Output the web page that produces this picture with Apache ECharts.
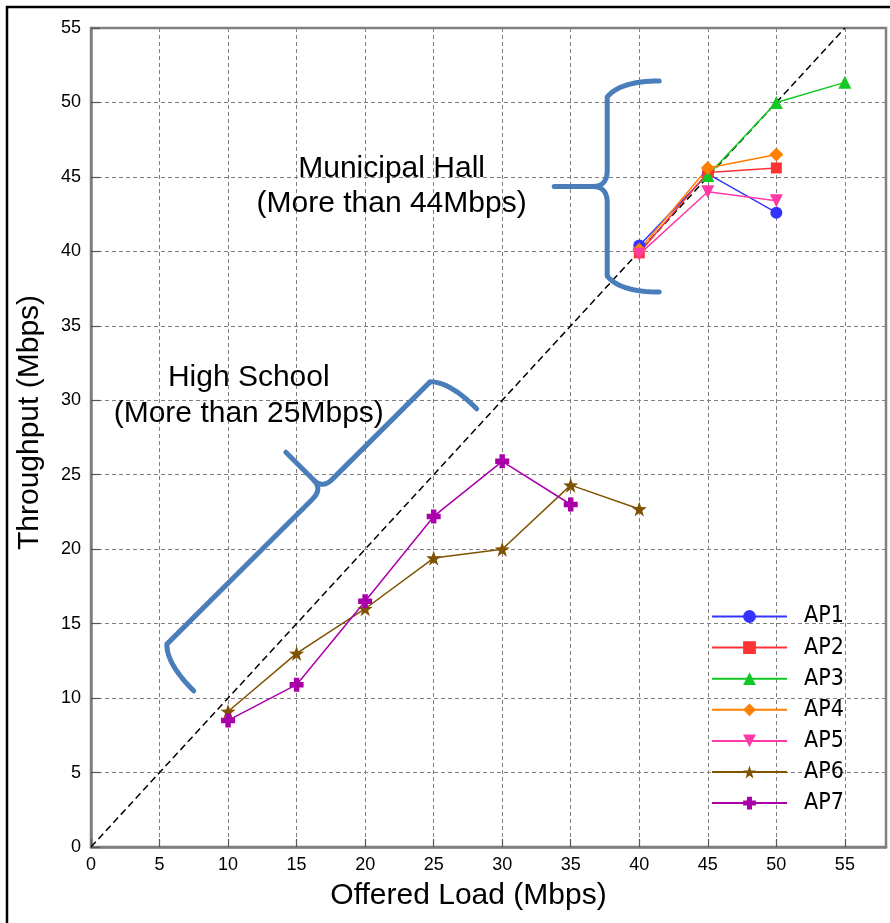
<!DOCTYPE html>
<html>
<head>
<meta charset="utf-8">
<script src="https://cdn.jsdelivr.net/npm/echarts@6/dist/echarts.min.js"></script>
<style>
html,body{margin:0;padding:0;background:#fff;}
#chart{width:890px;height:923px;}
</style>
</head>
<body>
<div id="chart"></div>
<script>
// ---- data ----
const seriesNames = ['AP1','AP2','AP3','AP4','AP5','AP6','AP7'];
const ap1Load = [40, 45, 50];
const ap1Thr  = [40.4, 45.2, 42.6];
const ap2Load = [40, 45, 50];
const ap2Thr  = [39.9, 45.3, 45.6];
const ap3Load = [45, 50, 55];
const ap3Thr  = [45.1, 50.0, 51.35];
const ap4Load = [40, 45, 50];
const ap4Thr  = [40.1, 45.6, 46.5];
const ap5Load = [40, 45, 50];
const ap5Thr  = [39.8, 44.0, 43.4];
const ap6Load = [10, 15, 20, 25, 30, 35, 40];
const ap6Thr  = [9.1, 13.0, 16.0, 19.4, 20.0, 24.3, 22.7];
const ap7Load = [10, 15, 20, 25, 30, 35];
const ap7Thr  = [8.5, 10.9, 16.5, 22.2, 25.9, 23.0];
const idealLoad = [0, 55];
const idealThr  = [0, 55];
const xTitle = 'Offered Load (Mbps)';
const yTitle = 'Throughput (Mbps)';
const noteMunicipal = 'Municipal Hall\n(More than 44Mbps)';
const noteSchool = 'High School\n(More than 25Mbps)';

const zip = (xs, ys) => xs.map((x, i) => [x, ys[i]]);

const STAR = 'path://M0,-10 L2.35,-3.24 L9.51,-3.09 L3.8,1.24 L5.88,8.09 L0,4 L-5.88,8.09 L-3.8,1.24 L-9.51,-3.09 L-2.35,-3.24 Z';
const PLUS = 'path://M-3.5,-9 L3.5,-9 L3.5,-3.5 L9,-3.5 L9,3.5 L3.5,3.5 L3.5,9 L-3.5,9 L-3.5,3.5 L-9,3.5 L-9,-3.5 L-3.5,-3.5 Z';

const styles = [
  {color:'#3333ff', symbol:'circle', size:12, rot:0},
  {color:'#ff3333', symbol:'rect', size:11, rot:0},
  {color:'#11c922', symbol:'triangle', size:13, rot:0},
  {color:'#ff8000', symbol:'diamond', size:[14,14], rot:0},
  {color:'#ff3aa5', symbol:'triangle', size:13, rot:180},
  {color:'#7f5200', symbol:STAR, size:15, rot:0},
  {color:'#aa00aa', symbol:PLUS, size:14, rot:0}
];
const dataSets = [
  zip(ap1Load, ap1Thr), zip(ap2Load, ap2Thr), zip(ap3Load, ap3Thr),
  zip(ap4Load, ap4Thr), zip(ap5Load, ap5Thr), zip(ap6Load, ap6Thr), zip(ap7Load, ap7Thr)
];

const chart = echarts.init(document.getElementById('chart'), null, {renderer:'canvas'});
const FONT = "'Liberation Sans', Arial, sans-serif";
const GRAY = '#7f7f7f';

const series = [{
  name: 'ideal', type: 'line', data: zip(idealLoad, idealThr),
  showSymbol: false, symbol: 'none', silent: true, z: 1,
  lineStyle: {color:'#000', width:1.5, type:[7,4]}
}];
seriesNames.forEach((n, i) => {
  const s = styles[i];
  series.push({
    name: n, type: 'line', data: dataSets[i], z: 3,
    symbol: s.symbol, symbolSize: s.size, symbolRotate: s.rot,
    itemStyle: {color: s.color}, lineStyle: {color: s.color, width: 1.5},
    emphasis: {disabled: true}
  });
});

chart.setOption({
  animation: false,
  backgroundColor: '#fff',
  grid: {left: 91, top: 28, right: 4, bottom: 76, show: true, borderColor: GRAY, borderWidth: 2.5,
         containLabel: false, outerBoundsMode: 'none'},
  legend: {
    data: seriesNames, orient: 'vertical', left: 706, top: 600,
    itemWidth: 75, itemHeight: 16, itemGap: 8.1,
    textStyle: {fontSize: 23, fontFamily: "'Liberation Sans Narrow', 'DejaVu Sans Condensed', sans-serif", color: '#000', padding: [0,0,0,12]},
    selectedMode: false
  },
  xAxis: {
    type: 'value', min: 0, max: 58, interval: 5,
    name: xTitle, nameLocation: 'middle', nameGap: 34,
    nameTextStyle: {fontSize: 30, fontFamily: FONT, color: '#000', padding: [0,40,0,0]},
    axisLine: {show: true, lineStyle: {color: GRAY, width: 2.5}},
    axisTick: {show: true, inside: true, length: 8, lineStyle: {color: '#555', width: 1.2}},
    axisLabel: {fontSize: 18, fontFamily: FONT, color: '#000', margin: 9, showMaxLabel: false},
    splitLine: {show: true, lineStyle: {color: GRAY, width: 1, type: [4,3]}}
  },
  yAxis: {
    type: 'value', min: 0, max: 55, interval: 5,
    name: yTitle, nameLocation: 'middle', nameGap: 46,
    nameTextStyle: {fontSize: 30, fontFamily: FONT, color: '#000', padding: [0,0,0,30]},
    axisLine: {show: true, lineStyle: {color: GRAY, width: 2.5}},
    axisTick: {show: true, inside: true, length: 9, lineStyle: {color: '#555', width: 1.2}},
    axisLabel: {fontSize: 18, fontFamily: FONT, color: '#000', margin: 10},
    splitLine: {show: true, lineStyle: {color: GRAY, width: 1, type: [4,3]}}
  },
  series: series
});

// ---- annotations (anchored in data coordinates) ----
function px(x, y) { return chart.convertToPixel({gridIndex: 0}, [x, y]); }
// sample quadratic bezier
function quad(out, a, c, b, steps) {
  for (let k = 1; k <= steps; k++) {
    const t = k / steps, mt = 1 - t;
    out.push([mt*mt*a[0] + 2*mt*t*c[0] + t*t*b[0], mt*mt*a[1] + 2*mt*t*c[1] + t*t*b[1]]);
  }
}
// returns two polylines (halves of a curly brace meeting at the tip)
function bracePolys(p0, p1, f, d, a, r, side) {
  const dx = p1[0]-p0[0], dy = p1[1]-p0[1];
  const L = Math.hypot(dx, dy);
  const u = [dx/L, dy/L];
  const n = [-u[1]*side, u[0]*side];
  const P = (s, t) => [p0[0]+s*u[0]+t*n[0], p0[1]+s*u[1]+t*n[1]];
  const m = f*L;
  const h1 = [P(0,-a)];
  quad(h1, P(0,-a), P(0,-a*0.25), P(r,0), 16);
  h1.push(P(m-r,0));
  quad(h1, P(m-r,0), P(m,0), P(m,r*0.9), 10);
  h1.push(P(m,d));
  const h2 = [P(m,r*0.9)];
  quad(h2, P(m,r*0.9), P(m,0), P(m+r,0), 10);
  h2.push(P(L-r,0));
  quad(h2, P(L-r,0), P(L,-a*0.25), P(L,-a), 16);
  return [h1, h2];
}
function drawAnnotations() {
  const m0 = px(37.66, 51.44), m1 = px(37.66, 37.27);
  const s0 = px(4.815, 12.96), s1 = px(25.46, 31.90);
  const tm = px(21.93, 44.39), ts = px(11.51, 30.29);
  const braceStyle = {stroke: '#4a7ebb', lineWidth: 5, fill: null, lineCap: 'round', lineJoin: 'round'};
  const polys = bracePolys(m0, m1, 0.5, 53, 52, 16, 1).concat(bracePolys(s0, s1, 0.585, 52, 52, 14, -1));
  const g = polys.map(pts => ({type: 'polyline', z: 100, silent: true, shape: {points: pts}, style: braceStyle}));
  g.push(
    {type: 'text', z: 100, silent: true, x: tm[0], y: tm[1],
      style: {text: noteMunicipal, font: '30px ' + FONT, fill: '#000', align: 'center', verticalAlign: 'middle', lineHeight: 35}},
    {type: 'text', z: 100, silent: true, x: ts[0], y: ts[1],
      style: {text: noteSchool, font: '30px ' + FONT, fill: '#000', align: 'center', verticalAlign: 'middle', lineHeight: 36}},
    {type: 'polyline', z: 100, silent: true, shape: {points: [[7,930],[7,7],[900,7]]}, style: {stroke: '#000', lineWidth: 2.5, fill: null}}
  );
  chart.setOption({graphic: g});
}
drawAnnotations();
</script>
</body>
</html>
